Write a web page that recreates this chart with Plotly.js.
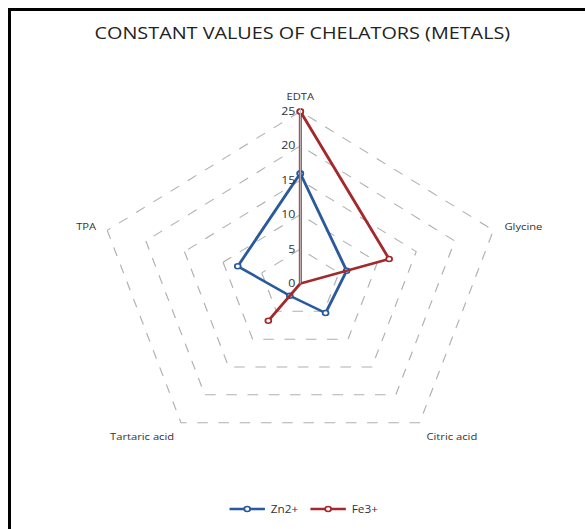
<!DOCTYPE html>
<html>
<head>
<meta charset="utf-8">
<script src="https://cdn.plot.ly/plotly-3.0.1.min.js"></script>
<style>
  html, body { margin:0; padding:0; background:#fff; overflow:hidden; width:585px; height:529px; }
  #frame { position:absolute; left:8px; top:8px; width:600px; height:540px; z-index:5; pointer-events:none;
           border-left:3px solid #000; border-top:3px solid #000; box-sizing:border-box; }
  #chart { position:absolute; left:0; top:0; width:496px; height:529px;
           transform:scaleX(1.18); transform-origin:0 0; }
</style>
</head>
<body>
<div id="chart"></div>
<div id="frame"></div>
<script>
// ---- data ----
const categories = ["EDTA", "Glycine", "Citric acid", "Tartaric acid", "TPA"];
const zn2Values = [16, 6, 5.3, 2.2, 8.1];
const fe3Values = [25, 11.5, 0, 6.7, 0];
const seriesNames = ["Zn2+", "Fe3+"];
const radialTicks = [0, 5, 10, 15, 20, 25];
const titleText = "CONSTANT VALUES OF CHELATORS (METALS)";

function closeLoop(arr) { return arr.concat([arr[0]]); }

const colors = ["#2A5A9E", "#A3292B"];
const series = [zn2Values, fe3Values];

const traces = series.map((vals, i) => ({
  type: "scatterpolar",
  mode: "lines+markers",
  r: closeLoop(vals),
  theta: closeLoop(categories),
  name: seriesNames[i],
  line: { color: colors[i], width: 2.5 },
  marker: { symbol: "circle", size: 5, color: "#ffffff", line: { color: colors[i], width: 1.5 } },
  cliponaxis: false
}));

const layout = {
  width: 496,
  height: 529,
  margin: { l: 79, r: 66, t: 108, b: 70, autoexpand: false },
  paper_bgcolor: "rgba(0,0,0,0)",
  plot_bgcolor: "rgba(0,0,0,0)",
  font: { family: "Open Sans, Liberation Sans, sans-serif", color: "#333333", size: 10 },
  title: {
    text: titleText,
    font: { size: 16.8, color: "#222222", family: "Open Sans, Liberation Sans, sans-serif" },
    x: 0.505, xanchor: "center", xref: "paper",
    y: 1 - 33/529, yanchor: "middle", yref: "container"
  },
  showlegend: true,
  legend: {
    orientation: "h",
    x: 0.51, xanchor: "center",
    yref: "container",
    y: 1 - 509/529, yanchor: "middle",
    font: { size: 10, color: "#333333" },
    itemwidth: 30,
    traceorder: "normal"
  },
  polar: {
    bgcolor: "rgba(0,0,0,0)",
    gridshape: "linear",
    domain: { x: [0, 1], y: [0, 1] },
    angularaxis: {
      rotation: 90,
      direction: "clockwise",
      showline: false,
      showgrid: false,
      ticks: "outside",
      ticklen: 4,
      tickcolor: "rgba(0,0,0,0)",
      tickfont: { size: 9.5, color: "#333333" }
    },
    radialaxis: {
      range: [0, 25.5],
      tickvals: radialTicks,
      ticktext: radialTicks.map(String),
      angle: 90,
      side: "counterclockwise",
      tickangle: 90,
      showline: true,
      linecolor: "#bdbdbd",
      linewidth: 1,
      showgrid: true,
      gridcolor: "#b0b0b0",
      griddash: "dash",
      gridwidth: 1,
      ticks: "",
      tickfont: { size: 10.5, color: "#333333" }
    }
  }
};

Plotly.newPlot("chart", traces, layout, { displayModeBar: false, staticPlot: true });
</script>
</body>
</html>
